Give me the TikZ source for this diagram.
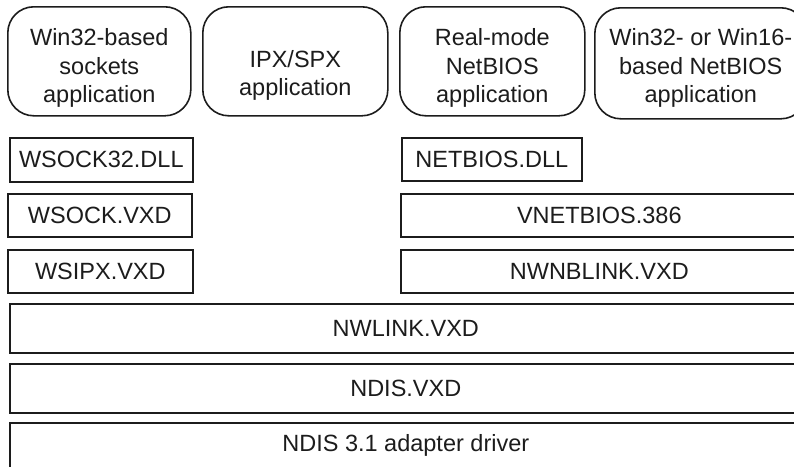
\documentclass[tikz,border=0pt]{standalone}
\usepackage{fontspec}
\setmainfont{Liberation Sans}
\usetikzlibrary{positioning}
\definecolor{edge}{HTML}{1C1C1C}
\definecolor{ink}{HTML}{1C1C1C}

\begin{document}
\begin{tikzpicture}[
    x=1pt, y=-1pt,
    every node/.style={font=\fontsize{23.5}{28.5}\selectfont, text=ink},
    appbox/.style={draw=edge, line width=1.6pt, rounded corners=26pt,
        anchor=north west, inner sep=0pt},
    apptext/.style={align=center, inner sep=0pt},
    layer/.style={draw=edge, line width=1.6pt, anchor=north west, inner sep=0pt},
]

\useasboundingbox (0,0) rectangle (794,466);

% ---------------------------------------------------------------- applications
\node[appbox, minimum width=183, minimum height=109] (sockapp) at (7,6) {};
\node[apptext, yshift=-7pt] (socktxt) at (sockapp.center)
    {Win32-based\\sockets\\application};

\node[appbox, minimum width=185, minimum height=109] (ipxapp) at (202,6) {};
\node[apptext, yshift=-14pt] (ipxtxt) at (ipxapp.center)
    {IPX/SPX\\application};

\node[appbox, minimum width=185, minimum height=109] (rmapp) at (399,6) {};
\node[apptext, yshift=-7pt] (rmtxt) at (rmapp.center)
    {Real-mode\\NetBIOS\\application};

\node[appbox, minimum width=212, minimum height=111] (nbapp) at (594,7) {};
\node[apptext, yshift=-5pt] (nbtxt) at (nbapp.center)
    {Win32- or Win16-\\based NetBIOS\\application};

% ---------------------------------------------------------------- layers
\foreach \name/\x/\y/\w/\h/\txt in {
    wsockdll/9/137/183/44/WSOCK32.DLL,
    wsockvxd/7/193/184/43/WSOCK.VXD,
    wsipx/7/249/185/43/WSIPX.VXD,
    netbiosdll/401/137/180/43/NETBIOS.DLL,
    vnetbios/400/193/397/43/VNETBIOS.386,
    nwnblink/400/249/397/43/NWNBLINK.VXD,
    nwlink/9/303/792/49/NWLINK.VXD,
    ndis/9/363/792/49/NDIS.VXD,
    adapter/9/422/792/46/NDIS 3.1 adapter driver}{
    \node[layer, minimum width=\w, minimum height=\h] (\name) at (\x,\y) {\txt};
}

\end{tikzpicture}
\end{document}
